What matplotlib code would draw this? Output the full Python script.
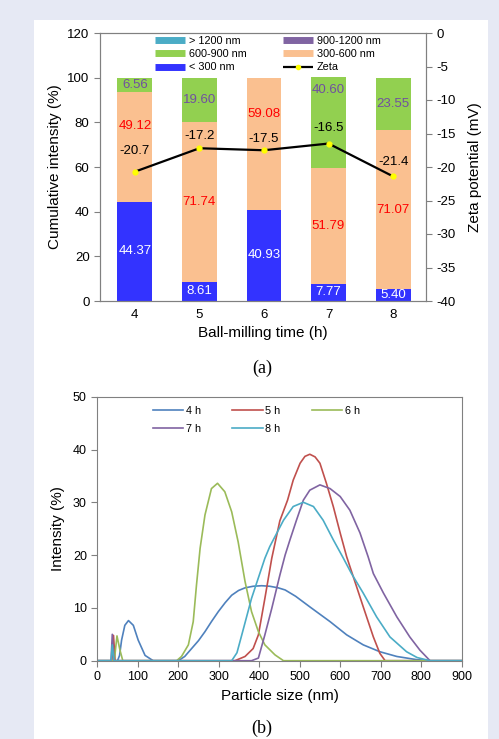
import numpy as np
import matplotlib
matplotlib.use('Agg')
import matplotlib.pyplot as plt
from matplotlib.lines import Line2D
from matplotlib.patches import Rectangle

plt.rcParams['font.family'] = ['Liberation Sans', 'DejaVu Sans']
plt.rcParams['axes.unicode_minus'] = False

# (a) size fractions vs milling time
times = ['4', '5', '6', '7', '8']
lt300 = [44.37, 8.61, 40.93, 7.77, 5.40]
r300_600 = [49.12, 71.74, 59.08, 51.79, 71.07]
r600_900 = [6.56, 19.60, 0.0, 40.60, 23.55]
r900_1200 = [0, 0, 0, 0, 0]
gt1200 = [0, 0, 0, 0, 0]
zeta = [-20.7, -17.2, -17.5, -16.5, -21.4]

# (b) DLS intensity distributions
size_4h = [0, 50, 55, 60, 68, 77, 89, 101, 118, 138, 200, 216, 233, 250, 266, 282, 299, 316, 332,
           349, 365, 385, 406, 426, 447, 464, 490, 525, 550, 575, 616, 657, 698, 740, 789, 822, 900]
int_4h = [0, 0, 1.0, 3.9, 6.7, 7.6, 6.7, 3.9, 1.0, 0, 0, 0.8, 2.3, 3.8, 5.5, 7.4, 9.3, 11.0, 12.4,
          13.3, 13.8, 14.1, 14.2, 14.1, 13.8, 13.4, 12.2, 10.2, 8.8, 7.4, 4.9, 3.0, 1.7, 0.8, 0.2, 0, 0]
size_5h = [0, 36, 40, 44, 340, 365, 385, 398, 414, 431, 451, 470, 484, 501, 513, 525, 538, 550,
           566, 583, 600, 616, 632, 657, 682, 698, 711, 900]
int_5h = [0, 0, 4.8, 0, 0, 0.8, 2.3, 4.9, 11.8, 19.4, 26.5, 30.4, 34.2, 37.4, 38.7, 39.1, 38.6, 37.4,
          33.6, 29.2, 24.2, 19.7, 16.0, 10.2, 4.5, 1.4, 0, 0]
size_6h = [0, 42, 48.6, 56, 63, 196, 208, 225, 237, 245, 254, 266, 282, 297, 315, 332, 348, 365,
           381, 398, 414, 439, 460, 900]
int_6h = [0, 0, 4.7, 2.0, 0, 0, 0.8, 3.0, 7.4, 14.3, 21.3, 27.6, 32.6, 33.6, 32.0, 28.2, 22.5, 15.0,
          9.3, 5.5, 3.0, 1.1, 0, 0]
size_7h = [0, 34, 37, 41, 381, 398, 414, 431, 451, 464, 476, 492, 509, 525, 550, 575, 600, 624,
           649, 669, 682, 707, 740, 772, 797, 822, 900]
int_7h = [0, 0, 5.0, 0, 0, 0.5, 4.9, 9.9, 16.2, 20.0, 22.9, 26.6, 30.4, 32.3, 33.3, 32.6, 31.1, 28.5,
          24.2, 19.7, 16.5, 12.8, 8.3, 4.5, 2.0, 0, 0]
size_8h = [0, 34, 37, 41, 332, 345, 357, 381, 414, 426, 443, 460, 484, 509, 534, 558, 583, 608,
           628, 657, 690, 723, 764, 790, 822, 900]
int_8h = [0, 0, 3.0, 0, 0, 1.5, 4.9, 11.8, 19.4, 21.6, 24.1, 26.6, 29.2, 30.0, 29.2, 26.6, 22.9, 19.4,
          16.5, 12.8, 8.3, 4.5, 1.7, 0.6, 0, 0]

c_blue = '#3333FF'
c_peach = '#FAC090'
c_green = '#92D050'
c_purple = '#8064A2'
c_cyan = '#4BACC6'
spine_c = '#808080'

fig = plt.figure(figsize=(4.99, 7.39), dpi=100, facecolor='#E6E9F4')
bg = Rectangle((34 / 499, 0), 454 / 499, 719 / 739, transform=fig.transFigure,
               facecolor='white', edgecolor='none', zorder=-10)
fig.add_artist(bg)

# ---------- (a)
ax = fig.add_axes([100 / 499, 1 - 301 / 739, 326 / 499, 268 / 739])
x = np.arange(len(times))
w = 0.54
b1 = np.array(lt300)
b2 = b1 + np.array(r300_600)
ax.bar(x, lt300, w, color=c_blue, zorder=2)
ax.bar(x, r300_600, w, bottom=b1, color=c_peach, zorder=2)
ax.bar(x, r600_900, w, bottom=b2, color=c_green, zorder=2)
ax.set_xlim(-0.54, 4.51)
ax.set_ylim(0, 120)
ax.set_yticks(range(0, 121, 20))
ax.set_xticks(x)
ax.set_xticklabels(times)
ax.tick_params(axis='x', length=0, labelsize=9.5, pad=6)
ax.tick_params(axis='y', direction='out', length=4, color=spine_c, labelsize=9.5)
for s in ax.spines.values():
    s.set_color(spine_c)
ax.set_xlabel('Ball-milling time (h)', fontsize=11, labelpad=3)
ax.set_ylabel('Cumulative intensity (%)', fontsize=11, labelpad=4)

# segment labels (a few nudged up as in the original)
nudge_mid = {0: 78.4, 2: 83.7}
nudge_top = {3: 94.4}
for i in range(len(times)):
    ax.text(x[i], lt300[i] / 2, '%.2f' % lt300[i], ha='center', va='center',
            color='white', fontsize=9.5, zorder=3)
    ym = nudge_mid.get(i, (b1[i] + b2[i]) / 2)
    ax.text(x[i], ym, '%.2f' % r300_600[i], ha='center', va='center',
            color='#FF0000', fontsize=9.5, zorder=3)
    if r600_900[i] > 0:
        yt = nudge_top.get(i, b2[i] + r600_900[i] / 2)
        ax.text(x[i], yt, '%.2f' % r600_900[i], ha='center', va='center',
                color='#7050A0', fontsize=9.5, zorder=3)

ax2 = ax.twinx()
ax2.plot(x, zeta, color='black', lw=1.6, marker='o', ms=3.5, mfc='yellow', mec='yellow', zorder=4)
ax2.set_ylim(-40, 0)
ax2.set_yticks(range(-40, 1, 5))
ax2.tick_params(axis='y', direction='out', length=4, color=spine_c, labelsize=9.5)
for s in ax2.spines.values():
    s.set_color(spine_c)
ax2.set_ylabel('Zeta potential (mV)', fontsize=11, labelpad=9)
zeta_dy = [15, 9, 8, 11.5, 10]
for i, z in enumerate(zeta):
    ax2.annotate('%.1f' % z, (x[i], z), xytext=(0, zeta_dy[i]), textcoords='offset points',
                 ha='center', va='center', fontsize=9.5, color='black')

def patch_line(c):
    return Line2D([], [], color=c, lw=5, solid_capstyle='butt')

handles = [patch_line(c_cyan), patch_line(c_green), patch_line(c_blue),
           patch_line(c_purple), patch_line(c_peach),
           Line2D([], [], color='black', lw=1.6, marker='o', ms=3, mfc='yellow', mec='yellow',
                  solid_capstyle='butt')]
labels = ['> 1200 nm', '600-900 nm', '< 300 nm', '900-1200 nm', '300-600 nm', 'Zeta']
ax2.legend(handles, labels, ncol=2, loc='upper left', bbox_to_anchor=(0.169, 0.989),
           frameon=False, fontsize=7.8, handlelength=2.75, handletextpad=0.35,
           columnspacing=3.4, labelspacing=0.3, borderpad=0, borderaxespad=0)

fig.text(262 / 499, 1 - 368 / 739, '(a)', ha='center', va='center', fontsize=13,
         family='Liberation Serif')

# ---------- (b)
bx = fig.add_axes([97.3 / 499, 1 - 660.7 / 739, 364.3 / 499, 264 / 739])
series = [(size_4h, int_4h, '#4F81BD', '4 h'), (size_5h, int_5h, '#C0504D', '5 h'),
          (size_6h, int_6h, '#9BBB59', '6 h'), (size_7h, int_7h, c_purple, '7 h'),
          (size_8h, int_8h, c_cyan, '8 h')]
lines = {}
for sx, sy, col, lab in series:
    lines[lab], = bx.plot(sx, sy, color=col, lw=1.2, label=lab, solid_joinstyle='round')
bx.set_xlim(0, 900)
bx.set_ylim(0, 50)
bx.set_xticks(range(0, 901, 100))
bx.set_yticks(range(0, 51, 10))
bx.tick_params(direction='out', length=4, color=spine_c, labelsize=9)
for s in bx.spines.values():
    s.set_color(spine_c)
bx.set_xlabel('Particle size (nm)', fontsize=11, labelpad=4)
bx.set_ylabel('Intensity (%)', fontsize=11, labelpad=6)
order = ['4 h', '7 h', '5 h', '8 h', '6 h']
bx.legend([lines[k] for k in order], order, ncol=3, loc='upper left',
          bbox_to_anchor=(0.152, 0.964), frameon=False, fontsize=7.8, handlelength=2.8,
          handletextpad=0.25, columnspacing=2.9, labelspacing=0.7, borderpad=0, borderaxespad=0)

fig.text(262 / 499, 1 - 728.5 / 739, '(b)', ha='center', va='center', fontsize=13,
         family='Liberation Serif')

fig.savefig('out.png', dpi=100, facecolor=fig.get_facecolor())
